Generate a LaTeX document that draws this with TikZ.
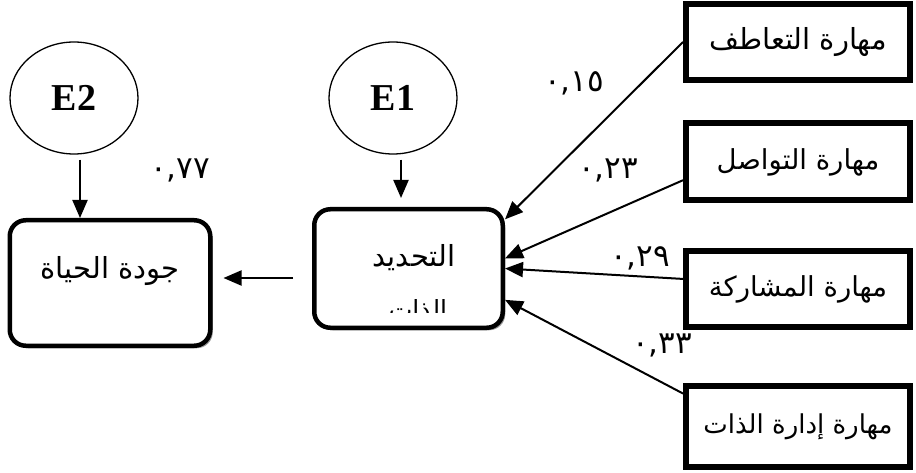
\documentclass[tikz,border=0pt]{standalone}
\usepackage{fontspec}
\setmainfont{Liberation Serif}
\newfontfamily\arabicfont[Script=Arabic]{DejaVu Sans}
\TeXXeTstate=1
\usetikzlibrary{arrows.meta,shapes.geometric,shadows}

\begin{document}
\begin{tikzpicture}[x=1pt,y=-1pt,
  errnode/.style={ellipse,draw,line width=1.3pt,minimum width=128pt,minimum height=112pt,
    inner sep=0pt,font=\fontsize{38}{44}\selectfont\bfseries},
  varbox/.style={draw,line width=4.5pt,rounded corners=16pt,fill=white,inner sep=0pt,
    drop shadow={shadow xshift=2.5pt,shadow yshift=-2.5pt,fill=black!40,opacity=1}},
  skillbox/.style={draw,line width=6pt,fill=white,inner sep=0pt,minimum width=224pt,
    drop shadow={shadow xshift=1.5pt,shadow yshift=-1.5pt,fill=black!35,opacity=1}},
  arfont/.style={font=\arabicfont\fontsize{#1}{#1}\selectfont},
  boxtext/.style={inner sep=0pt,arfont=29},
  coef/.style={inner sep=0pt,arfont=31},
  link/.style={line width=2pt,-{Triangle[length=18pt,width=15pt]}}]

\useasboundingbox (0,0) rectangle (916,473);

% error terms
\node[errnode] (e2) at (74,98) {E2};
\node[errnode] (e1) at (393,98) {E1};

% latent variables
\node[varbox,minimum width=200.5pt,minimum height=125.5pt] (q) at (110,283) {};
\node[boxtext] (qt) at (110,271) {\beginR جودة الحياة\endR};

\node[varbox,minimum width=188.5pt,minimum height=118.5pt] (c) at (408.5,268.5) {};
\node[boxtext] (ct1) at (414,258) {\beginR التحديد\endR};
\begin{scope}
  \clip (380,295) rectangle (450,312);
  \node[inner sep=0pt,arfont=25,anchor=base] (ct2) at (418,318) {\beginR الذات\endR};
\end{scope}

% skills
\node[skillbox,minimum height=76pt,arfont=29] (s1) at (798,42) {\beginR مهارة التعاطف\endR};
\node[skillbox,minimum height=77pt,arfont=27.5] (s2) at (798,162) {\beginR مهارة التواصل\endR};
\node[skillbox,minimum height=76pt,arfont=27.5] (s3) at (798,289) {\beginR مهارة المشاركة\endR};
\node[skillbox,minimum height=81pt,arfont=26] (s4) at (798,426.5) {\beginR مهارة إدارة الذات\endR};

% paths
\draw[link] (s1.west) -- (c.27.5);
\draw[link] (s2.189) -- (c.6);
\draw[link] (s3.175) -- (c.0);
\draw[link] (s4.164) -- (c.-18);

\draw[link,shorten <=5pt] ([xshift=6pt]e2.south) -- ([xshift=6pt]e2.south |- q.north);
\draw[link,shorten <=5pt,shorten >=9pt] ([xshift=8pt]e1.south) -- ([xshift=8pt]e1.south |- c.north);
\draw[link,shorten <=19pt,shorten >=11pt] ([yshift=-9.5pt]c.west) -- ([yshift=-9.5pt]c.west -| q.east);

% coefficients
\node[coef] (k1) at (574,83) {٠,١٥};
\node[coef] (k2) at (608,170) {٠,٢٣};
\node[coef] (k3) at (640,258) {٠,٢٩};
\node[coef] (k4) at (662,345) {٠,٣٣};
\node[coef] (k5) at (180,170) {٠,٧٧};
\end{tikzpicture}
\end{document}
